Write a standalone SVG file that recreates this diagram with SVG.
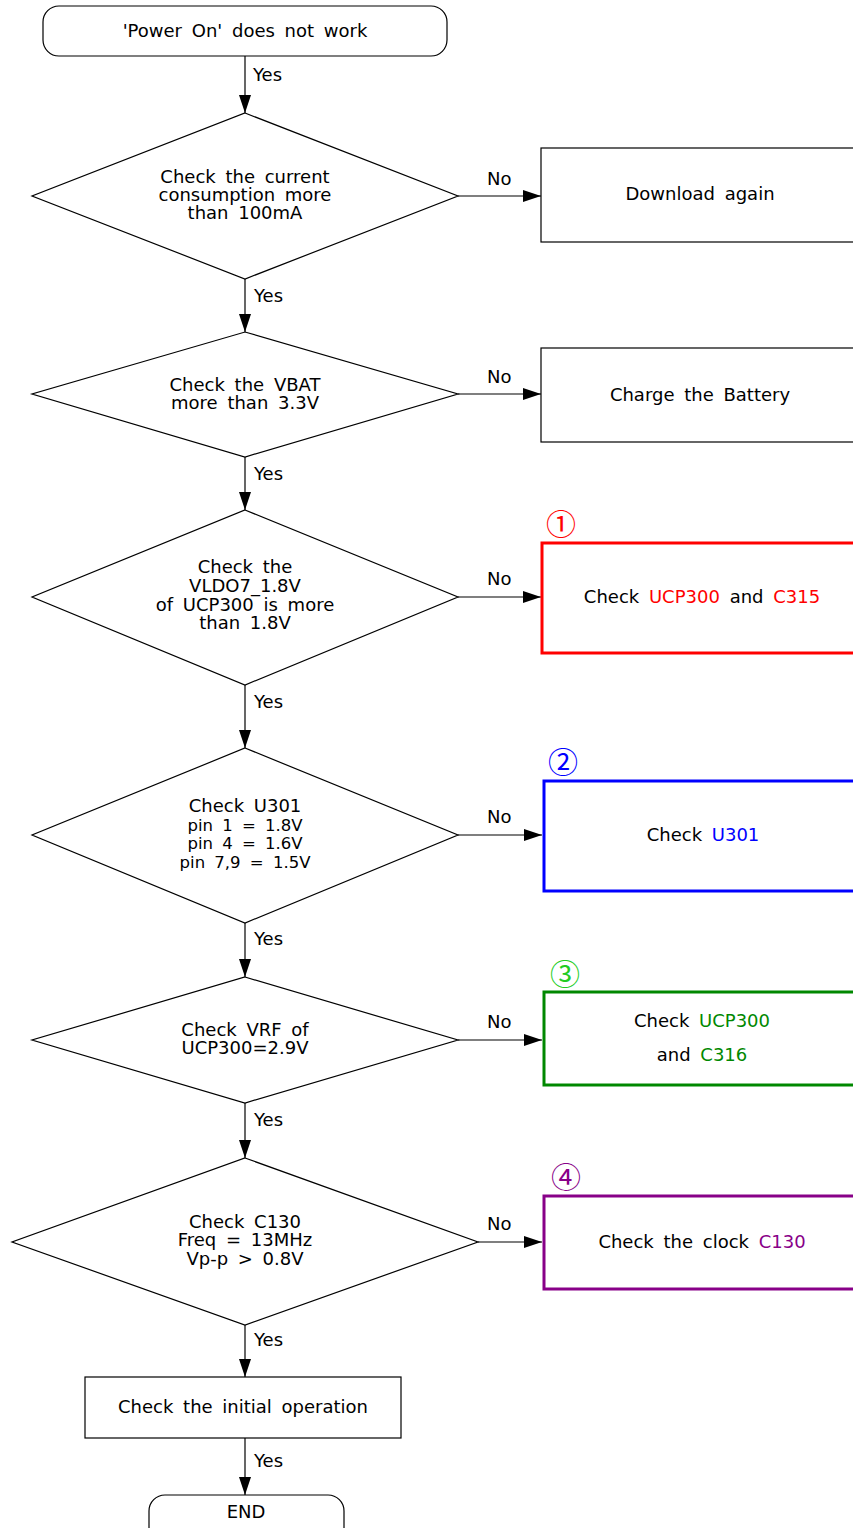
<svg xmlns="http://www.w3.org/2000/svg" width="853" height="1528" viewBox="0 0 853 1528">
<style>
text{font-family:"DejaVu Sans",Verdana,sans-serif;font-size:18px;fill:#000;text-anchor:middle;word-spacing:4px}
.s{font-size:16.5px}
.lbl{text-anchor:start}
.shape{fill:#fff;stroke:#000;stroke-width:1.2}
.conn{stroke:#000;stroke-width:1.2;fill:none;marker-end:url(#ah)}
.num{font-family:"DejaVu Serif","Noto Sans CJK JP",serif;font-size:30px;text-anchor:start}
</style>
<defs>
<marker id="ah" markerUnits="userSpaceOnUse" markerWidth="18" markerHeight="12" refX="18" refY="6" orient="auto">
<path d="M0,0 L18,6 L0,12 z" fill="#000"/>
</marker>
</defs>
<g id="connectors">
<line class="conn" x1="245" y1="56" x2="245" y2="113"/>
<line class="conn" x1="245" y1="279" x2="245" y2="332"/>
<line class="conn" x1="245" y1="457" x2="245" y2="510"/>
<line class="conn" x1="245" y1="685" x2="245" y2="748"/>
<line class="conn" x1="245" y1="923" x2="245" y2="977"/>
<line class="conn" x1="245" y1="1103" x2="245" y2="1158"/>
<line class="conn" x1="245" y1="1325" x2="245" y2="1377"/>
<line class="conn" x1="245" y1="1438" x2="245" y2="1495"/>
<line class="conn" x1="458" y1="196" x2="541" y2="196"/>
<line class="conn" x1="458" y1="394" x2="541" y2="394"/>
<line class="conn" x1="458" y1="597" x2="541" y2="597"/>
<line class="conn" x1="458" y1="835" x2="542" y2="835"/>
<line class="conn" x1="458" y1="1040" x2="542" y2="1040"/>
<line class="conn" x1="478" y1="1242" x2="542" y2="1242"/>
<text class="lbl" x="253" y="81">Yes</text>
<text class="lbl" x="254" y="302">Yes</text>
<text class="lbl" x="254" y="480">Yes</text>
<text class="lbl" x="254" y="708">Yes</text>
<text class="lbl" x="254" y="945">Yes</text>
<text class="lbl" x="254" y="1126">Yes</text>
<text class="lbl" x="254" y="1346">Yes</text>
<text class="lbl" x="254" y="1467">Yes</text>
<text class="lbl" x="487" y="185">No</text>
<text class="lbl" x="487" y="383">No</text>
<text class="lbl" x="487" y="585">No</text>
<text class="lbl" x="487" y="823">No</text>
<text class="lbl" x="487" y="1028">No</text>
<text class="lbl" x="487" y="1230">No</text>
</g>
<g id="start">
<rect class="shape" x="43" y="6" width="404" height="50" rx="16"/>
<text x="245" y="37">'Power On' does not work</text>
</g>
<g id="d1">
<polygon class="shape" points="245,113 458,196 245,279 32,196"/>
<text x="245" y="183">Check the current</text>
<text x="245" y="201">consumption more</text>
<text x="245" y="219">than 100mA</text>
</g>
<g id="b1">
<rect class="shape" x="541" y="148" width="320" height="94"/>
<text x="700" y="200">Download again</text>
</g>
<g id="d2">
<polygon class="shape" points="245,332 458,394 245,457 32,394"/>
<text x="245" y="391">Check the VBAT</text>
<text x="245" y="409">more than 3.3V</text>
</g>
<g id="b2">
<rect class="shape" x="541" y="348" width="320" height="94"/>
<text x="700" y="401">Charge the Battery</text>
</g>
<g id="d3">
<polygon class="shape" points="245,510 458,597 245,685 32,597"/>
<text x="245" y="573">Check the</text>
<text x="245" y="592">VLDO7_1.8V</text>
<text x="245" y="611">of UCP300 is more</text>
<text x="245" y="629">than 1.8V</text>
</g>
<g id="b3">
<rect x="542" y="543" width="320" height="110" fill="#fff" stroke="#f00" stroke-width="3"/>
<text class="num" x="546" y="535" style="fill:#f00">①</text>
<text x="702" y="603">Check <tspan style="fill:#f00">UCP300</tspan> and <tspan style="fill:#f00">C315</tspan></text>
</g>
<g id="d4">
<polygon class="shape" points="245,748 458,835 245,923 32,835"/>
<text x="245" y="812">Check U301</text>
<text class="s" x="245" y="831">pin 1 = 1.8V</text>
<text class="s" x="245" y="849">pin 4 = 1.6V</text>
<text class="s" x="245" y="868">pin 7,9 = 1.5V</text>
</g>
<g id="b4">
<rect x="544" y="781" width="320" height="110" fill="#fff" stroke="#00f" stroke-width="3"/>
<text class="num" x="548" y="773" style="fill:#00f">②</text>
<text x="703" y="841">Check <tspan style="fill:#00f">U301</tspan></text>
</g>
<g id="d5">
<polygon class="shape" points="245,977 458,1040 245,1103 32,1040"/>
<text x="245" y="1036">Check VRF of</text>
<text x="245" y="1054">UCP300=2.9V</text>
</g>
<g id="b5">
<rect x="544" y="992" width="320" height="93" fill="#fff" stroke="#080" stroke-width="3"/>
<text class="num" x="550" y="985" style="fill:#2c2">③</text>
<text x="702" y="1027">Check <tspan style="fill:#080">UCP300</tspan></text>
<text x="702" y="1061">and <tspan style="fill:#080">C316</tspan></text>
</g>
<g id="d6">
<polygon class="shape" points="245,1158 478,1242 245,1325 12,1242"/>
<text x="245" y="1228">Check C130</text>
<text x="245" y="1246">Freq = 13MHz</text>
<text x="245" y="1265">Vp-p &gt; 0.8V</text>
</g>
<g id="b6">
<rect x="544" y="1196" width="320" height="93" fill="#fff" stroke="#808" stroke-width="3"/>
<text class="num" x="551" y="1188" style="fill:#808">④</text>
<text x="702" y="1248">Check the clock <tspan style="fill:#808">C130</tspan></text>
</g>
<g id="b7">
<rect class="shape" x="85" y="1377" width="316" height="61"/>
<text x="243" y="1413">Check the initial operation</text>
</g>
<g id="end">
<rect class="shape" x="149" y="1495" width="195" height="50" rx="16"/>
<text x="246" y="1518">END</text>
</g>
</svg>
